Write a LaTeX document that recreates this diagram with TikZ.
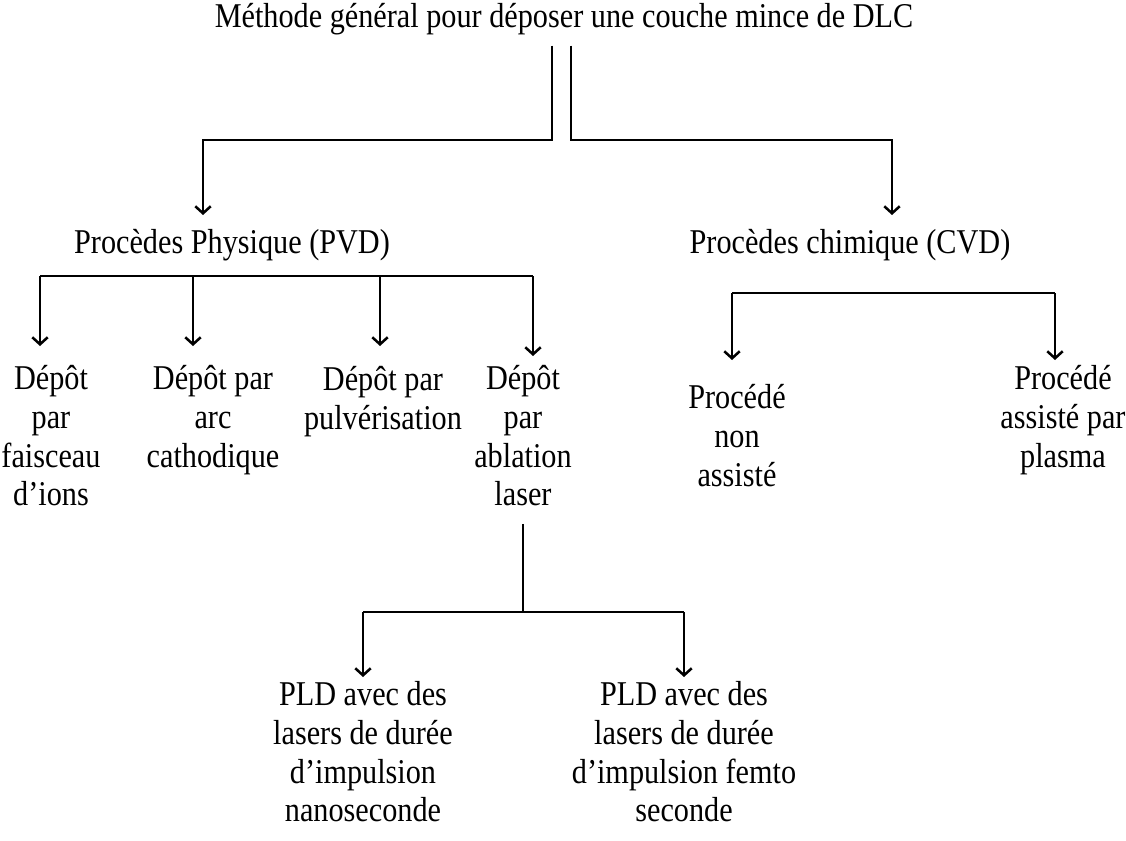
\documentclass[tikz,border=0pt]{standalone}
\usepackage{fontspec}
\usepackage{graphicx}
\setmainfont{Liberation Serif}
\usetikzlibrary{arrows.meta,calc}
\tikzset{%
  >={Straight Barb[length=5pt,width=11pt]},
  ln/.style = {draw, line width=1.8pt},
  arr/.style = {ln, ->}
}
% text a bit taller than wide, as in the scanned figure
\newcommand{\tallt}[1]{\scalebox{1}[1.15]{\begin{tabular}{@{}c@{}}#1\end{tabular}}}
\begin{document}
\begin{tikzpicture}[x=0.025cm,y=-0.025cm,%
                    v/.style={inner sep=0pt,align=center,%
                    font=\fontsize{21.5}{24}\selectfont}]
  \useasboundingbox (0,0) rectangle (1126,841);
  % texts
  \node[v] (methode) at (564,20) {\tallt{Méthode général pour déposer une couche mince de DLC}};
  \node[v] (pvd) at (232,246) {\tallt{Procèdes Physique (PVD)}};
  \node[v] (cvd) at (850,246) {\tallt{Procèdes chimique (CVD)}};
  \node[v] (faisceau) at (51,440) {\tallt{Dépôt\\par\\faisceau\\d’ions}};
  \node[v] (arc) at (213,421) {\tallt{Dépôt par\\arc\\cathodique}};
  \node[v] (pulv) at (383,402) {\tallt{Dépôt par\\pulvérisation}};
  \node[v] (ablation) at (523,440) {\tallt{Dépôt\\par\\ablation\\laser}};
  \node[v] (nonassist) at (737,440) {\tallt{Procédé\\non\\assisté}};
  \node[v] (plasma) at (1063,421) {\tallt{Procédé\\assisté par\\plasma}};
  \node[v] (nano) at (363,756) {\tallt{PLD avec des\\lasers de durée\\d’impulsion\\nanoseconde}};
  \node[v] (femto) at (684,756) {\tallt{PLD avec des\\lasers de durée\\d’impulsion femto\\seconde}};
  % bends and arrow tips
  \coordinate (splitL) at (552,140);
  \coordinate (splitR) at (571,140);
  \coordinate (tipPVD) at (203,215);
  \coordinate (tipCVD) at (892,215);
  \coordinate (barPVD) at (0,276);
  \coordinate (barCVD) at (0,293);
  \coordinate (barPLD) at (0,612);
  \coordinate (t1) at (40,346);
  \coordinate (t2) at (193,346);
  \coordinate (t3) at (380,346);
  \coordinate (t4) at (533,356);
  \coordinate (t5) at (732,360);
  \coordinate (t6) at (1055,360);
  \coordinate (t7) at (363,677);
  \coordinate (t8) at (684,677);
  % top split
  \draw[arr] ($(splitL |- methode.south)+(0,6)$) -- (splitL) -| (tipPVD);
  \draw[arr] ($(splitR |- methode.south)+(0,6)$) -- (splitR) -| (tipCVD);
  % PVD
  \draw[ln] (t1 |- barPVD) -- (t4 |- barPVD);
  \foreach \t in {t1,t2,t3,t4}
    \draw[arr] (\t |- barPVD) -- (\t);
  % CVD
  \draw[ln] (t5 |- barCVD) -- (t6 |- barCVD);
  \foreach \t in {t5,t6}
    \draw[arr] (\t |- barCVD) -- (\t);
  % PLD
  \draw[ln] ($(ablation.south)+(0,6)$) -- (ablation |- barPLD);
  \draw[ln] (t7 |- barPLD) -- (t8 |- barPLD);
  \foreach \t in {t7,t8}
    \draw[arr] (\t |- barPLD) -- (\t);
\end{tikzpicture}
\end{document}
